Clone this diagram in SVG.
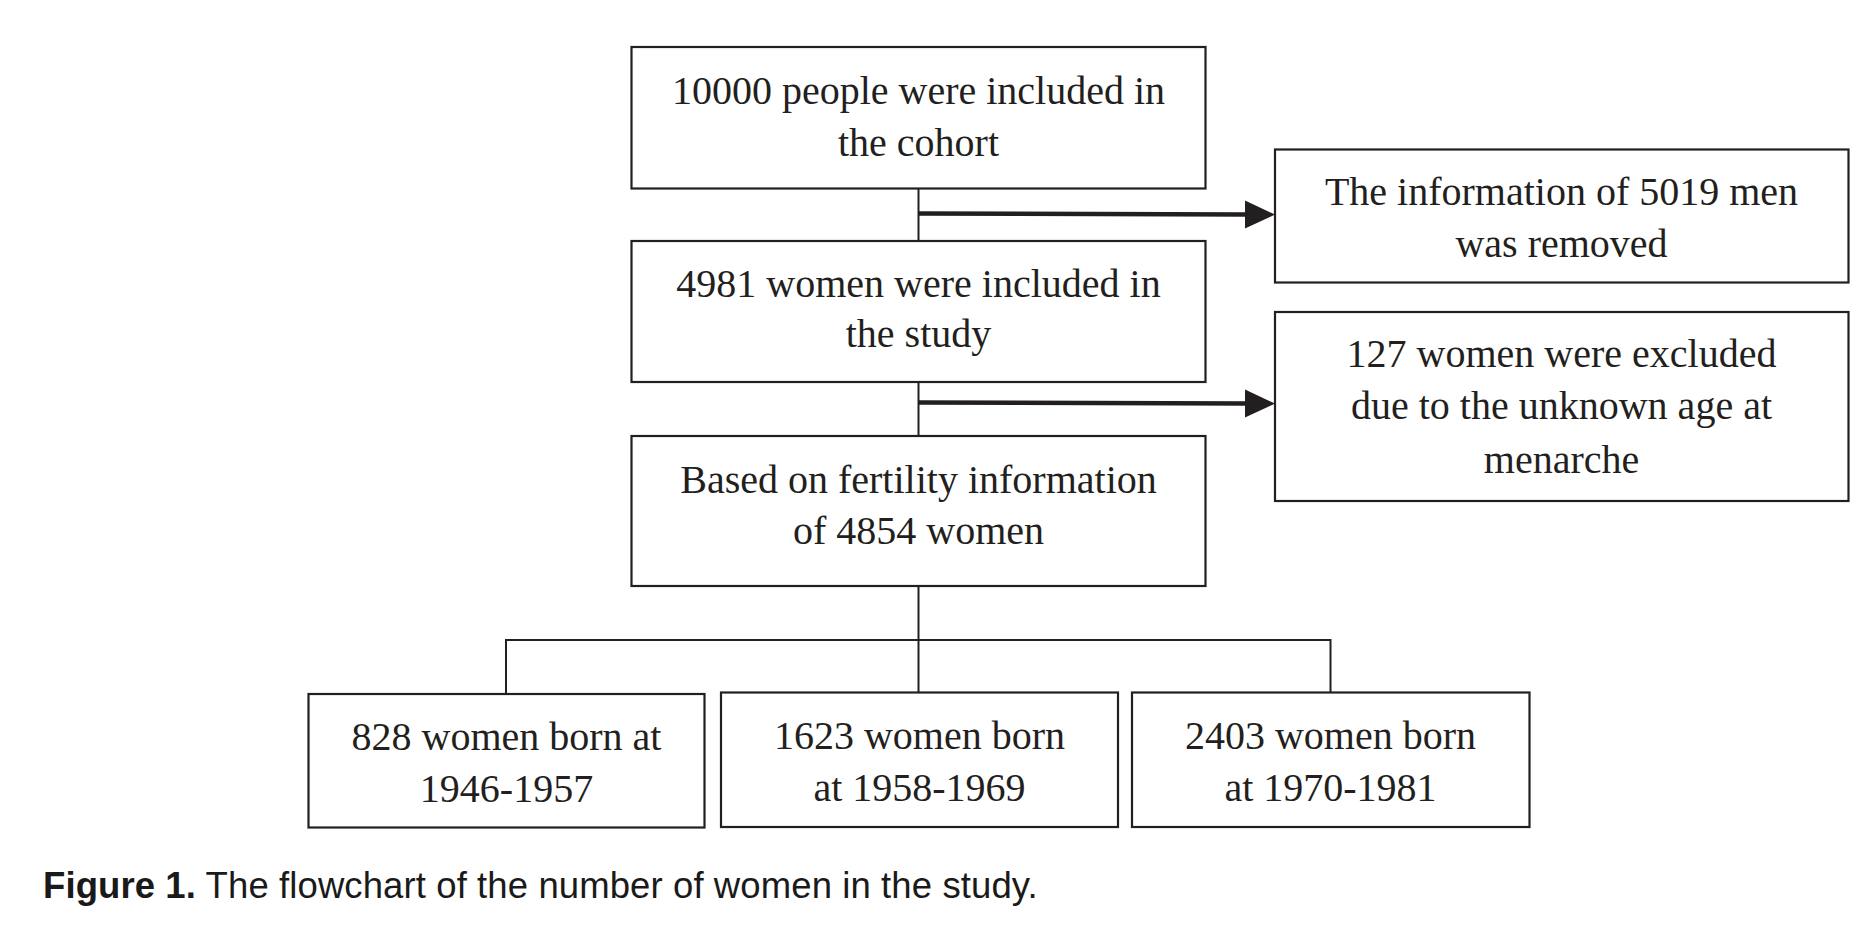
<svg xmlns="http://www.w3.org/2000/svg" width="1872" height="936" viewBox="0 0 1872 936">
<style>
.box{fill:#ffffff;stroke:#231f20;stroke-width:2.2}
.t{font-family:"Liberation Serif","Times New Roman",serif;font-size:40px;fill:#231f20;text-anchor:middle}
.ln{stroke:#231f20;stroke-width:2;fill:none}
.ar{stroke:#231f20;stroke-width:4.5;fill:none}
.cap{font-family:"Liberation Sans",Arial,sans-serif;font-size:36.5px;letter-spacing:0.1px;fill:#1a1a1a}
</style>
<defs>
<marker id="ah" markerUnits="userSpaceOnUse" markerWidth="30" markerHeight="30" refX="0" refY="15" orient="auto">
<path d="M0,1 L30,15 L0,29 z" fill="#231f20"/>
</marker>
</defs>
<rect width="1872" height="936" fill="#ffffff"/>
<g id="connectors">
<line class="ln" x1="918.5" y1="188.5" x2="918.5" y2="241"/>
<line class="ar" x1="918.5" y1="213.5" x2="1245" y2="214.5" marker-end="url(#ah)"/>
<line class="ln" x1="918.5" y1="382" x2="918.5" y2="436"/>
<line class="ar" x1="918.5" y1="402.5" x2="1245" y2="403.5" marker-end="url(#ah)"/>
<line class="ln" x1="918.5" y1="586" x2="918.5" y2="693"/>
<polyline class="ln" points="506,694 506,640 1330.5,640 1330.5,692"/>
</g>
<g id="n1">
<rect class="box" x="631.5" y="47" width="574" height="141.5"/>
<text class="t" x="918.5" y="104">10000 people were included in</text>
<text class="t" x="918.5" y="156">the cohort</text>
</g>
<g id="n2">
<rect class="box" x="631.5" y="241" width="574" height="141"/>
<text class="t" x="918.5" y="297">4981 women were included in</text>
<text class="t" x="918.5" y="347">the study</text>
</g>
<g id="n3">
<rect class="box" x="631.5" y="436" width="574" height="150"/>
<text class="t" x="918.5" y="493">Based on fertility information</text>
<text class="t" x="918.5" y="544">of 4854 women</text>
</g>
<g id="r1">
<rect class="box" x="1275" y="149.5" width="573.5" height="133"/>
<text class="t" x="1561.5" y="205">The information of 5019 men</text>
<text class="t" x="1561.5" y="257">was removed</text>
</g>
<g id="r2">
<rect class="box" x="1275" y="312" width="573.5" height="189"/>
<text class="t" x="1561.5" y="367">127 women were excluded</text>
<text class="t" x="1561.5" y="419">due to the unknown age at</text>
<text class="t" x="1561.5" y="473">menarche</text>
</g>
<g id="b1">
<rect class="box" x="308.5" y="694" width="396" height="133.5"/>
<text class="t" x="506.5" y="750">828 women born at</text>
<text class="t" x="506.5" y="802">1946-1957</text>
</g>
<g id="b2">
<rect class="box" x="721" y="692.5" width="397" height="134.5"/>
<text class="t" x="919.5" y="749">1623 women born</text>
<text class="t" x="919.5" y="801">at 1958-1969</text>
</g>
<g id="b3">
<rect class="box" x="1132" y="692.5" width="397.5" height="134.5"/>
<text class="t" x="1330.5" y="749">2403 women born</text>
<text class="t" x="1330.5" y="801">at 1970-1981</text>
</g>
<g id="caption">
<text class="cap" x="43" y="898"><tspan font-weight="bold">Figure 1.</tspan> The flowchart of the number of women in the study.</text>
</g>
</svg>
